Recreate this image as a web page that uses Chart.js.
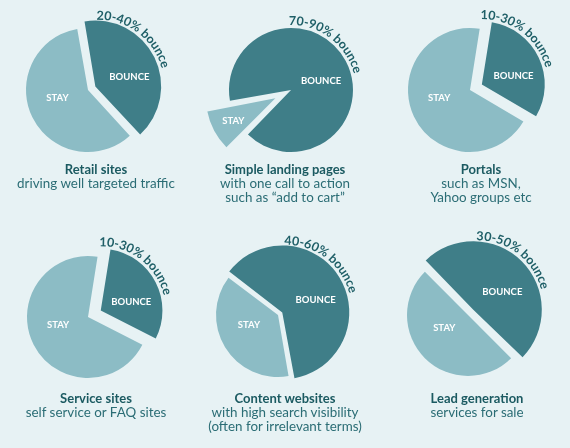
<!DOCTYPE html>
<html><head><meta charset="utf-8">
<script src="https://cdn.jsdelivr.net/npm/chart.js@4.4.1/dist/chart.umd.min.js"></script>
<style>
html,body{margin:0;padding:0;}
body{width:570px;height:448px;background:#e7f2f4;position:relative;overflow:hidden;font-family:Lato,sans-serif;}
canvas{position:absolute;}
.cap{position:absolute;width:220px;margin-left:-110px;text-align:center;font-size:13.4px;line-height:13.8px;color:#2b6d75;white-space:nowrap;}
.cap b{color:#1b5a61;font-weight:700;font-size:13px;}
</style></head><body>
<script>
// ---- data ----
const sliceLabels = ['BOUNCE', 'STAY'];
const bounceValues = [41, 90, 31, 30, 62, 50];
const stayValues = [59, 10, 69, 70, 38, 50];
const rangeLabels = ['20-40% bounce', '70-90% bounce', '10-30% bounce', '10-30% bounce', '40-60% bounce', '30-50% bounce'];
const siteTypes = ['Retail sites', 'Simple landing pages', 'Portals', 'Service sites', 'Content websites', 'Lead generation'];
const descriptions = [
  ['driving well targeted traffic'],
  ['with one call to action', 'such as \u201cadd to cart\u201d'],
  ['such as MSN,', 'Yahoo groups etc'],
  ['self service or FAQ sites'],
  ['with high search visibility', '(often for irrelevant terms)'],
  ['services for sale']
];

// ---- layout & style ----
const centers = [[88,90],[291,90],[470,90],[88,317],[278,315],[468,315]];
const radii = [62, 62, 62, 61, 62, 61];
const rotations = [-10, 260, 9, 9, -53, -45];
const shiftPx = [[12,0],[0,25],[14,0],[15,0],[10,0],[15,0]]; // wanted pixel shift of each slice
const captionPos = [[96,163],[285,163],[481,163],[96,392],[285,392],[477,392]];
const textStartDeg = -2;
const CANVAS = 220;
const colBounce = '#3f7e88';
const colStay = '#8cbcc5';

// Chart.js moves an arc by offset/4*(2 - sin(min(PI, circumference)))
function shiftFactor(circ) { return (2 - Math.sin(Math.min(Math.PI, circ))) / 4; }

const piePlugin = {
  id: 'pieText',
  afterDatasetsDraw(chart, args, opts) {
    const ctx = chart.ctx;
    const meta = chart.getDatasetMeta(0);
    meta.data.forEach((arc, i) => {
      const p = arc.getProps(['x','y','startAngle','endAngle','outerRadius']);
      const circ = p.endAngle - p.startAngle;
      const off = (arc.options.offset || 0) * shiftFactor(circ);
      const mid = (p.startAngle + p.endAngle) / 2;
      const cx = p.x + Math.cos(mid) * off, cy = p.y + Math.sin(mid) * off;
      const frac = circ / (2 * Math.PI);
      let lx, ly;
      if (frac < 0.2) {
        lx = cx + Math.cos(mid) * p.outerRadius * 0.65;
        ly = cy + Math.sin(mid) * p.outerRadius * 0.65;
      } else {
        lx = cx + Math.cos(mid) * p.outerRadius * 0.55;
        ly = cy + Math.sin(mid) * p.outerRadius * 0.3;
      }
      ctx.save();
      ctx.fillStyle = '#ffffff';
      ctx.font = 'bold 9.5px Lato';
      ctx.textAlign = 'center';
      ctx.textBaseline = 'middle';
      ctx.fillText(chart.data.labels[i], lx, ly);
      ctx.restore();
      if (i === 0) {
        const text = opts.text;
        const R = p.outerRadius + 3;
        ctx.save();
        ctx.font = 'bold 12.5px Lato';
        ctx.fillStyle = '#1f5f67';
        ctx.textAlign = 'center';
        ctx.textBaseline = 'alphabetic';
        let a = opts.startDeg * Math.PI / 180 - Math.PI / 2;
        for (const ch of text) {
          const w = ctx.measureText(ch).width;
          const ac = a + (w / 2) / R;
          ctx.save();
          ctx.translate(cx + Math.cos(ac) * R, cy + Math.sin(ac) * R);
          ctx.rotate(ac + Math.PI / 2);
          ctx.fillText(ch, 0, 0);
          ctx.restore();
          a += w / R;
        }
        ctx.restore();
      }
    });
  }
};

for (let k = 0; k < 6; k++) {
  const vals = [bounceValues[k], stayValues[k]];
  const total = vals[0] + vals[1];
  const offs = vals.map((v, j) => shiftPx[k][j] / shiftFactor(2 * Math.PI * v / total));
  const cv = document.createElement('canvas');
  cv.width = CANVAS; cv.height = CANVAS;
  cv.style.width = CANVAS + 'px'; cv.style.height = CANVAS + 'px';
  cv.style.left = (centers[k][0] - CANVAS / 2) + 'px';
  cv.style.top = (centers[k][1] - CANVAS / 2) + 'px';
  document.body.appendChild(cv);
  new Chart(cv, {
    type: 'pie',
    data: {
      labels: sliceLabels,
      datasets: [{
        data: vals,
        backgroundColor: [colBounce, colStay],
        borderWidth: 0,
        offset: offs
      }]
    },
    options: {
      responsive: false,
      animation: false,
      devicePixelRatio: 1,
      radius: radii[k],
      rotation: rotations[k],
      layout: { padding: 0 },
      events: [],
      plugins: {
        legend: { display: false },
        tooltip: { enabled: false },
        pieText: { text: rangeLabels[k], startDeg: textStartDeg }
      }
    },
    plugins: [piePlugin]
  });

  const cap = document.createElement('div');
  cap.className = 'cap';
  cap.style.left = captionPos[k][0] + 'px';
  cap.style.top = captionPos[k][1] + 'px';
  const b = document.createElement('b');
  b.textContent = siteTypes[k];
  cap.appendChild(b);
  descriptions[k].forEach(line => {
    cap.appendChild(document.createElement('br'));
    cap.appendChild(document.createTextNode(line));
  });
  document.body.appendChild(cap);
}
</script>
</body></html>
